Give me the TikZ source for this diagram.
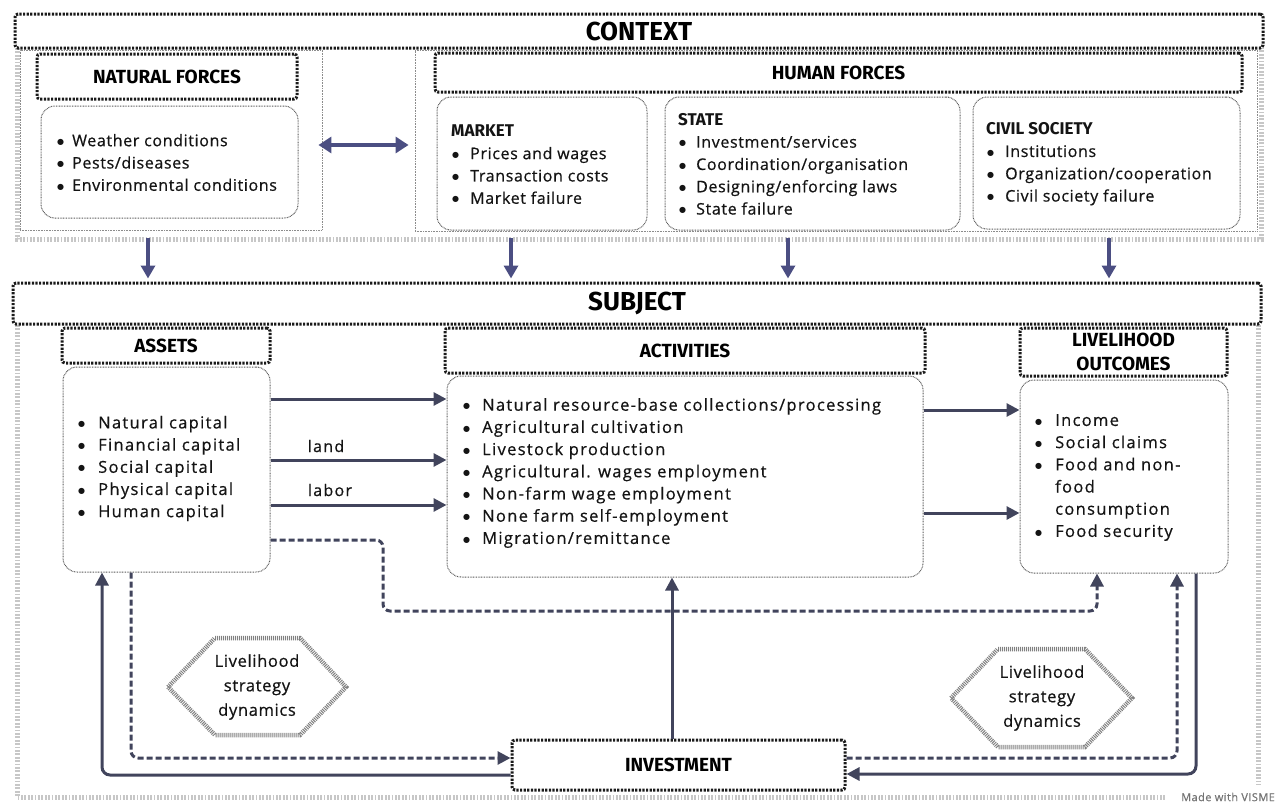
\documentclass[tikz,border=0pt]{standalone}
\usepackage{fontspec}
\setmainfont{Open Sans}[FakeBold=0.6, LetterSpace=4]
\newfontfamily\widefont{Open Sans}[FakeBold=0.6, LetterSpace=8]
\newfontfamily\hdrfont{Fira Sans}
\newfontfamily\dejavu{DejaVu Sans}
\usetikzlibrary{arrows.meta,calc,fit}
\definecolor{ctxc}{HTML}{4B4E82}
\definecolor{subc}{HTML}{41445C}
\definecolor{bord}{HTML}{1A1A1A}
\newcommand{\bulw}[1]{\makebox[#1][l]{\raisebox{1.8pt}{\dejavu\fontsize{8}{8}\selectfont ●}}}
\begin{document}
\begin{tikzpicture}[x=1pt,y=-1pt,
  thickdot/.style={draw=bord, line width=3pt, dash pattern=on 2.2pt off 1.4pt, rounded corners=3pt, inner sep=0pt},
  thindot/.style={draw=black!65, line width=1pt, dash pattern=on 0.8pt off 0.8pt, rounded corners=14pt, inner sep=0pt},
  panel/.style={draw=black!45, line width=0.9pt, dash pattern=on 0.8pt off 0.8pt, inner sep=0pt},
  band/.style={draw=black!22, line width=5pt, dash pattern=on 1.8pt off 1.6pt},
  hexline/.style={draw=black!50, line width=4.5pt, dash pattern=on 1pt off 1pt},
  carrow/.style={draw=ctxc, line width=3.5pt, -{Triangle[length=13pt,width=14pt]}},
  cdarrow/.style={draw=ctxc, line width=4pt, {Triangle[length=13pt,width=16pt]}-{Triangle[length=13pt,width=16pt]}},
  sarrow/.style={draw=subc, line width=3pt, -{Triangle[length=13pt,width=13pt]}},
  sdash/.style={draw=subc, line width=3pt, dash pattern=on 6pt off 3pt, rounded corners=7pt, -{Triangle[length=13pt,width=13pt]}},
  sline/.style={draw=subc, line width=3pt, rounded corners=8pt, -{Triangle[length=13pt,width=13pt]}},
  bigh/.style={font=\hdrfont\bfseries\fontsize{26}{28}\selectfont},
  hdr/.style={font=\hdrfont\bfseries\fontsize{19}{23}\selectfont, align=center},
  lst/.style={font=\fontsize{16}{22.3}\selectfont, align=left, inner sep=0pt, anchor=west, text=black!92},
  slst/.style={font=\widefont\fontsize{16.5}{22.2}\selectfont, align=left, inner sep=0pt, anchor=west, text=black!92},
  hexlbl/.style={font=\fontsize{16.5}{24.5}\selectfont, align=center, text=black!92},
  lbl/.style={font=\widefont\fontsize{16}{18}\selectfont, text=black!92}
]
\newcommand{\sh}{\hdrfont\bfseries\fontsize{17}{22.3}\selectfont}
\useasboundingbox (0,0) rectangle (1279,803);
% background bands
\draw[band] (17,48) -- (17,239) -- (1261,239) -- (1261,48);
\draw[band] (17,325) -- (17,797) -- (1165,797);
\draw[band] (1258,325) -- (1258,785);
% context
\node[panel, fit={(20,50) (322,230)}] (natpanel) {};
\node[panel, fit={(415,50) (1257,231)}] (humpanel) {};
\node[thickdot, fit={(15,14) (1263,48)}, bigh] (ctxhdr) {};
\node[bigh] at (ctxhdr.center) {CONTEXT};
\node[thickdot, fit={(37,54) (297,99)}] (nathdr) {};
\node[hdr] at (nathdr.center) {NATURAL FORCES};
\node[thindot, fit={(41,106) (298,218)}] (natbox) {};
\node[lst] (natlist) at (57,162.5) {\bulw{15pt}Weather conditions\\\bulw{15pt}Pests/diseases\\\bulw{15pt}Environmental conditions};
\node[thickdot, fit={(435,53) (1242,92)}] (humhdr) {};
\node[hdr] at (humhdr.center) {HUMAN FORCES};
\node[thindot, fit={(437,97) (647,230)}] (mktbox) {};
\node[lst] (mktlist) at (451,164.5) {{\sh MARKET}\\\hspace{1pt}\bulw{18pt}Prices and wages\\\hspace{1pt}\bulw{18pt}Transaction costs\\\hspace{1pt}\bulw{18pt}Market failure};
\node[thindot, fit={(665,97) (960,230)}] (stbox) {};
\node[lst] (stlist) at (678,164) {{\sh STATE}\\\hspace{1pt}\bulw{17pt}Investment/services\\\hspace{1pt}\bulw{17pt}Coordination/organisation\\\hspace{1pt}\bulw{17pt}Designing/enforcing laws\\\hspace{1pt}\bulw{17pt}State failure};
\node[thindot, fit={(973,97) (1240,229)}] (civbox) {};
\node[lst] (civlist) at (986,164) {{\sh CIVIL SOCIETY}\\\hspace{1pt}\bulw{18pt}Institutions\\\hspace{1pt}\bulw{18pt}Organization/cooperation\\\hspace{1pt}\bulw{18pt}Civil society failure};
\draw[cdarrow] ($(natpanel.east |- 0,145)+(-4,0)$) -- ($(humpanel.west |- 0,145)+(-6,0)$);
\coordinate (ctxbot) at (640,238);
% subject
\node[thickdot, fit={(13,283) (1261,324)}] (subhdr) {};
\node[bigh] at (subhdr.center) {SUBJECT};
\foreach \xx in {148,511,788,1109}
  \draw[carrow] (ctxbot -| \xx,0) -- ($(subhdr.north -| \xx,0)+(0,-3)$);
\node[thickdot, fit={(62,328) (270,363)}] (asshdr) {};
\node[hdr] at (asshdr.center) {ASSETS};
\node[thindot, fit={(63,367) (270,572)}] (assbox) {};
\node[slst] (asslist) at (78,468.5) {\bulw{20pt}Natural capital\\\bulw{20pt}Financial capital\\\bulw{20pt}Social capital\\\bulw{20pt}Physical capital\\\bulw{20pt}Human capital};
\node[thickdot, fit={(445,328) (925,373)}] (acthdr) {};
\node[hdr] at (acthdr.center) {ACTIVITIES};
\node[thindot, fit={(447,376) (923,577)}] (actbox) {};
\node[slst] (actlist) at (463,473) {\bulw{19pt}Natural resource-base collections/processing\\\bulw{19pt}Agricultural cultivation\\\bulw{19pt}Livestock production\\\bulw{19pt}Agricultural. wages employment\\\bulw{19pt}Non-farm wage employment\\\bulw{19pt}None farm self-employment\\\bulw{19pt}Migration/remittance};
\node[thickdot, fit={(1020,328) (1227,376)}] (outhdr) {};
\node[hdr, font=\hdrfont\bfseries\fontsize{19}{24}\selectfont] at (outhdr.center) {LIVELIHOOD\\OUTCOMES};
\node[thindot, fit={(1020,380) (1228,573)}] (outbox) {};
\node[slst] (outlist) at (1035,477.5) {\bulw{20pt}Income\\\bulw{20pt}Social claims\\\bulw{20pt}Food and non-\\\hspace*{20pt}food\\\hspace*{20pt}consumption\\\bulw{20pt}Food security};
\node[thickdot, fit={(512,740) (845,790)}] (invbox) {};
\node[hdr] at (invbox.center) {INVESTMENT};
% hexagons
\draw[hexline] (168,687) -- (215,638) -- (300,638) -- (346,687) -- (300,735) -- (215,735) -- cycle;
\node[hexlbl] (hexL) at (257,687) {Livelihood\\strategy\\dynamics};
\draw[hexline] (951,698) -- (998,649) -- (1085,649) -- (1132,698) -- (1085,747) -- (998,747) -- cycle;
\node[hexlbl] (hexR) at (1042,698) {Livelihood\\strategy\\dynamics};
% subject arrows
\draw[sarrow] (assbox.east |- 0,399) -- (actbox.west |- 0,399);
\draw[sarrow] (assbox.east |- 0,460) -- (actbox.west |- 0,460);
\draw[sarrow] (assbox.east |- 0,505) -- (actbox.west |- 0,505);
\node[lbl] (landlbl) at (326,446) {land};
\node[lbl] (laborlbl) at (330,490) {labor};
\draw[sarrow] (actbox.east |- 0,410) -- (outbox.west |- 0,410);
\draw[sarrow] (actbox.east |- 0,513) -- (outbox.west |- 0,513);
\draw[sdash] (assbox.east |- 0,540) -- (383,540) -- (383,611) -- (1097,611) -- (outbox.south -| 1097,0);
\draw[sarrow] (invbox.north -| 672,0) -- (actbox.south -| 672,0);
\draw[sline] (invbox.west |- 0,775) -- (102,775) -- (assbox.south -| 102,0);
\draw[sdash] (assbox.south -| 131,0) -- (131,758) -- (invbox.west |- 0,758);
\draw[sdash] (invbox.east |- 0,758) -- (1177,758) -- (outbox.south -| 1177,0);
\draw[sline] (outbox.south -| 1196,0) -- (1196,774) -- (invbox.east |- 0,774);
\node[anchor=west, font=\fontsize{11}{12}\selectfont, text=black!55, inner sep=0pt] (visme) at (1181,797) {Made with VISME};
\end{tikzpicture}
\end{document}
